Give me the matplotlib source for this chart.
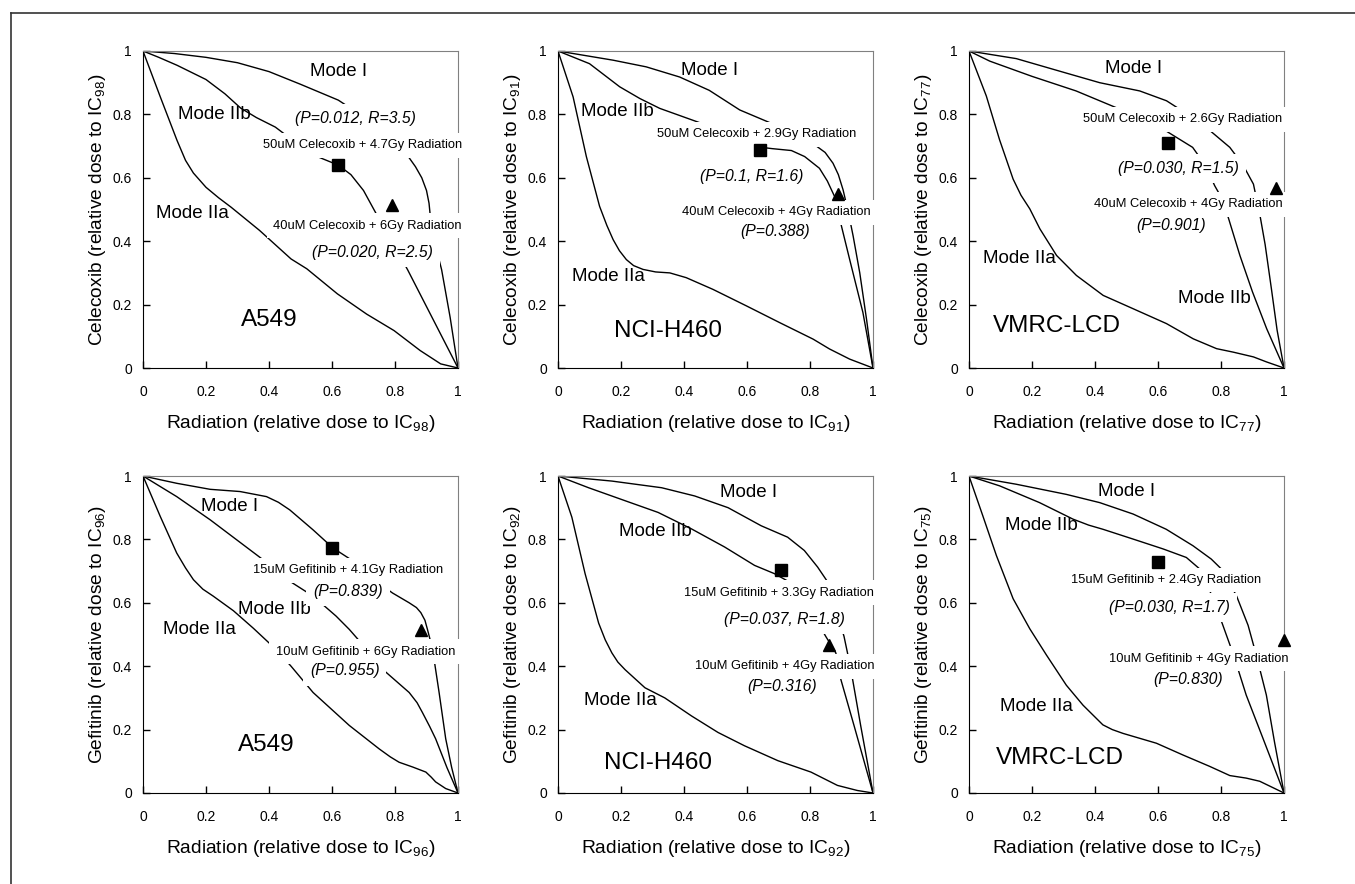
import matplotlib.pyplot as plt
from matplotlib.lines import Line2D

plt.rcParams['font.family'] = ['Liberation Sans', 'DejaVu Sans']
plt.rcParams['mathtext.fontset'] = 'custom'
plt.rcParams['mathtext.rm'] = 'Liberation Sans'
plt.rcParams['mathtext.default'] = 'regular'

# ---- data: (radiation, drug) points of each envelope ----
# Celecoxib / A549 (IC98)
cel_a549_I = [(0, 1), (0.1, 0.992), (0.2, 0.98), (0.3, 0.963), (0.4, 0.935), (0.5, 0.895), (0.62, 0.845),
              (0.72, 0.78), (0.8, 0.71), (0.84, 0.67), (0.865, 0.635), (0.885, 0.60), (0.90, 0.56),
              (0.908, 0.52), (0.912, 0.48), (0.925, 0.40), (0.948, 0.31), (0.975, 0.16), (1, 0)]
cel_a549_IIb = [(0, 1), (0.05, 0.98), (0.108, 0.955), (0.2, 0.91), (0.26, 0.865), (0.31, 0.82), (0.36, 0.79),
                (0.42, 0.76), (0.5, 0.70), (0.553, 0.667), (0.62, 0.64), (0.66, 0.61), (0.70, 0.56),
                (0.744, 0.48), (0.79, 0.40), (0.84, 0.31), (0.92, 0.155), (1, 0)]
cel_a549_IIa = [(0, 1), (0.055, 0.855), (0.108, 0.718), (0.135, 0.655), (0.16, 0.615), (0.2, 0.57),
                (0.24, 0.537), (0.28, 0.507), (0.37, 0.434), (0.47, 0.344), (0.52, 0.313), (0.617, 0.234),
                (0.71, 0.17), (0.797, 0.118), (0.88, 0.055), (0.945, 0.013), (1, 0)]
cel_a549_square = (0.62, 0.641)
cel_a549_triangle = (0.789, 0.513)
cel_a549_notes = ['(P=0.012, R=3.5)', '50uM Celecoxib + 4.7Gy Radiation',
                  '40uM Celecoxib + 6Gy Radiation', '(P=0.020, R=2.5)']

# Celecoxib / NCI-H460 (IC91)
cel_h460_I = [(0, 1), (0.175, 0.971), (0.28, 0.95), (0.386, 0.918), (0.48, 0.876), (0.577, 0.814),
              (0.677, 0.772), (0.75, 0.735), (0.815, 0.704), (0.848, 0.68), (0.873, 0.646), (0.89, 0.61),
              (0.905, 0.562), (0.922, 0.49), (0.937, 0.416), (0.958, 0.30), (0.98, 0.15), (1, 0)]
cel_h460_IIb = [(0, 1), (0.1, 0.96), (0.196, 0.887), (0.26, 0.85), (0.323, 0.819), (0.455, 0.772), (0.55, 0.73),
                (0.63, 0.698), (0.68, 0.692), (0.741, 0.686), (0.783, 0.667), (0.83, 0.63), (0.855, 0.59),
                (0.878, 0.541), (0.9, 0.447), (0.926, 0.342), (0.968, 0.175), (1, 0)]
cel_h460_IIa = [(0, 1), (0.048, 0.855), (0.09, 0.667), (0.132, 0.51), (0.155, 0.45), (0.175, 0.405),
                (0.195, 0.37), (0.217, 0.342), (0.24, 0.323), (0.27, 0.311), (0.31, 0.303), (0.355, 0.30),
                (0.407, 0.285), (0.492, 0.248), (0.598, 0.196), (0.704, 0.143), (0.81, 0.091), (0.862, 0.06),
                (0.926, 0.028), (1, 0)]
cel_h460_square = (0.64, 0.688)
cel_h460_triangle = (0.889, 0.549)
cel_h460_notes = ['50uM Celecoxib + 2.9Gy Radiation', '(P=0.1, R=1.6)',
                  '40uM Celecoxib + 4Gy Radiation', '(P=0.388)']

# Celecoxib / VMRC-LCD (IC77)
cel_vmrc_I = [(0, 1), (0.15, 0.976), (0.31, 0.93), (0.415, 0.90), (0.542, 0.874), (0.627, 0.843), (0.66, 0.822),
              (0.71, 0.79), (0.76, 0.753), (0.828, 0.696), (0.87, 0.64), (0.903, 0.58), (0.924, 0.48),
              (0.94, 0.39), (0.96, 0.25), (0.978, 0.12), (1, 0)]
cel_vmrc_IIb = [(0, 1), (0.066, 0.968), (0.2, 0.92), (0.34, 0.874), (0.48, 0.816), (0.55, 0.785), (0.617, 0.753),
                (0.71, 0.696), (0.75, 0.64), (0.78, 0.575), (0.80, 0.54), (0.823, 0.475), (0.86, 0.355),
                (0.9, 0.24), (0.945, 0.124), (1, 0)]
cel_vmrc_IIa = [(0, 1), (0.055, 0.858), (0.097, 0.72), (0.14, 0.596), (0.165, 0.545), (0.193, 0.502),
                (0.225, 0.439), (0.278, 0.355), (0.341, 0.292), (0.426, 0.229), (0.521, 0.187), (0.627, 0.14),
                (0.712, 0.092), (0.786, 0.061), (0.839, 0.05), (0.903, 0.035), (0.945, 0.019), (1, 0)]
cel_vmrc_square = (0.632, 0.711)
cel_vmrc_triangle = (0.975, 0.567)
cel_vmrc_notes = ['50uM Celecoxib + 2.6Gy Radiation', '(P=0.030, R=1.5)',
                  '40uM Celecoxib + 4Gy Radiation', '(P=0.901)']

# Gefitinib / A549 (IC96)
gef_a549_I = [(0, 1), (0.107, 0.977), (0.213, 0.958), (0.308, 0.951), (0.392, 0.935), (0.43, 0.917),
              (0.466, 0.893), (0.54, 0.83), (0.603, 0.773), (0.676, 0.726), (0.74, 0.668), (0.792, 0.631),
              (0.845, 0.60), (0.868, 0.585), (0.882, 0.569), (0.895, 0.545), (0.903, 0.516), (0.914, 0.474),
              (0.924, 0.422), (0.94, 0.317), (0.961, 0.171), (0.98, 0.08), (1, 0)]
gef_a549_IIb = [(0, 1), (0.107, 0.935), (0.213, 0.862), (0.297, 0.799), (0.381, 0.736), (0.466, 0.668),
                (0.54, 0.621), (0.613, 0.558), (0.655, 0.516), (0.692, 0.474), (0.761, 0.39), (0.845, 0.317),
                (0.87, 0.285), (0.887, 0.254), (0.91, 0.21), (0.929, 0.171), (0.965, 0.08), (1, 0)]
gef_a549_IIa = [(0, 1), (0.055, 0.872), (0.107, 0.757), (0.135, 0.71), (0.16, 0.673), (0.19, 0.643),
                (0.223, 0.621), (0.287, 0.575), (0.35, 0.52), (0.42, 0.455), (0.47, 0.40), (0.54, 0.317),
                (0.655, 0.213), (0.75, 0.139), (0.785, 0.114), (0.813, 0.097), (0.856, 0.082), (0.898, 0.066),
                (0.915, 0.05), (0.929, 0.035), (0.961, 0.014), (1, 0)]
gef_a549_square = (0.601, 0.773)
gef_a549_triangle = (0.882, 0.514)
gef_a549_notes = ['15uM Gefitinib + 4.1Gy Radiation', '(P=0.839)',
                  '10uM Gefitinib + 6Gy Radiation', '(P=0.955)']

# Gefitinib / NCI-H460 (IC92)
gef_h460_I = [(0, 1), (0.171, 0.984), (0.329, 0.963), (0.434, 0.937), (0.54, 0.90), (0.645, 0.843),
              (0.729, 0.807), (0.782, 0.765), (0.824, 0.713), (0.856, 0.666), (0.885, 0.57), (0.908, 0.494),
              (0.919, 0.442), (0.935, 0.36), (0.961, 0.212), (1, 0)]
gef_h460_IIb = [(0, 1), (0.097, 0.963), (0.213, 0.922), (0.318, 0.885), (0.424, 0.833), (0.529, 0.776),
                (0.624, 0.718), (0.687, 0.692), (0.734, 0.666), (0.8, 0.58), (0.85, 0.494), (0.882, 0.442),
                (0.898, 0.358), (0.94, 0.212), (1, 0)]
gef_h460_IIa = [(0, 1), (0.044, 0.87), (0.086, 0.692), (0.129, 0.536), (0.15, 0.483), (0.171, 0.442),
                (0.19, 0.413), (0.213, 0.389), (0.276, 0.332), (0.339, 0.30), (0.424, 0.243), (0.508, 0.191),
                (0.592, 0.149), (0.698, 0.102), (0.803, 0.066), (0.887, 0.024), (0.95, 0.008), (1, 0)]
gef_h460_square = (0.708, 0.705)
gef_h460_triangle = (0.859, 0.466)
gef_h460_notes = ['15uM Gefitinib + 3.3Gy Radiation', '(P=0.037, R=1.8)',
                  '10uM Gefitinib + 4Gy Radiation', '(P=0.316)']

# Gefitinib / VMRC-LCD (IC75)
gef_vmrc_I = [(0, 1), (0.15, 0.974), (0.309, 0.942), (0.415, 0.916), (0.521, 0.88), (0.626, 0.832),
              (0.711, 0.78), (0.769, 0.738), (0.806, 0.702), (0.85, 0.62), (0.886, 0.529), (0.912, 0.435),
              (0.944, 0.309), (0.97, 0.16), (1, 0)]
gef_vmrc_IIb = [(0, 1), (0.097, 0.969), (0.224, 0.916), (0.33, 0.864), (0.38, 0.845), (0.425, 0.832),
                (0.521, 0.801), (0.616, 0.77), (0.69, 0.743), (0.738, 0.702), (0.78, 0.6), (0.806, 0.529),
                (0.84, 0.435), (0.88, 0.309), (0.933, 0.173), (1, 0)]
gef_vmrc_IIa = [(0, 1), (0.044, 0.874), (0.087, 0.749), (0.14, 0.613), (0.193, 0.518), (0.246, 0.435),
                (0.309, 0.34), (0.362, 0.277), (0.425, 0.215), (0.455, 0.2), (0.489, 0.188), (0.595, 0.157),
                (0.679, 0.12), (0.764, 0.084), (0.828, 0.055), (0.88, 0.047), (0.923, 0.037), (1, 0)]
gef_vmrc_square = (0.6, 0.728)
gef_vmrc_triangle = (1.0, 0.482)
gef_vmrc_notes = ['15uM Gefitinib + 2.4Gy Radiation', '(P=0.030, R=1.7)',
                  '10uM Gefitinib + 4Gy Radiation', '(P=0.830)']

drugs = ['Celecoxib', 'Gefitinib']
cells = ['A549', 'NCI-H460', 'VMRC-LCD']
ic_levels = [['98', '91', '77'], ['96', '92', '75']]
ticks = [0, 0.2, 0.4, 0.6, 0.8, 1]

curves = [
    [(cel_a549_I, cel_a549_IIb, cel_a549_IIa), (cel_h460_I, cel_h460_IIb, cel_h460_IIa),
     (cel_vmrc_I, cel_vmrc_IIb, cel_vmrc_IIa)],
    [(gef_a549_I, gef_a549_IIb, gef_a549_IIa), (gef_h460_I, gef_h460_IIb, gef_h460_IIa),
     (gef_vmrc_I, gef_vmrc_IIb, gef_vmrc_IIa)],
]
squares = [[cel_a549_square, cel_h460_square, cel_vmrc_square],
           [gef_a549_square, gef_h460_square, gef_vmrc_square]]
triangles = [[cel_a549_triangle, cel_h460_triangle, cel_vmrc_triangle],
             [gef_a549_triangle, gef_h460_triangle, gef_vmrc_triangle]]
notes = [[cel_a549_notes, cel_h460_notes, cel_vmrc_notes],
         [gef_a549_notes, gef_h460_notes, gef_vmrc_notes]]

# ---- layout (text placement in axes coords) ----
mode_pos = [
    [{'Mode I': (0.62, 0.934), 'Mode IIb': (0.225, 0.80), 'Mode IIa': (0.156, 0.486)},
     {'Mode I': (0.481, 0.939), 'Mode IIb': (0.19, 0.808), 'Mode IIa': (0.159, 0.29)},
     {'Mode I': (0.521, 0.944), 'Mode IIb': (0.78, 0.22), 'Mode IIa': (0.161, 0.344)}],
    [{'Mode I': (0.276, 0.904), 'Mode IIb': (0.418, 0.579), 'Mode IIa': (0.179, 0.516)},
     {'Mode I': (0.606, 0.948), 'Mode IIb': (0.308, 0.826), 'Mode IIa': (0.197, 0.292)},
     {'Mode I': (0.5, 0.95), 'Mode IIb': (0.23, 0.843), 'Mode IIa': (0.214, 0.272)}],
]
note_pos = [
    [[(0.675, 0.786), (0.696, 0.702), (0.712, 0.449), (0.728, 0.365)],
     [(0.632, 0.738), (0.614, 0.604), (0.693, 0.491), (0.688, 0.431)],
     [(0.678, 0.785), (0.664, 0.63), (0.696, 0.517), (0.643, 0.449)]],
    [[(0.65, 0.702), (0.65, 0.637), (0.706, 0.445), (0.64, 0.385)],
     [(0.70, 0.632), (0.719, 0.546), (0.721, 0.40), (0.71, 0.337)],
     [(0.626, 0.672), (0.637, 0.586), (0.73, 0.424), (0.695, 0.359)]],
]
cell_pos = [[(0.40, 0.15), (0.349, 0.117), (0.278, 0.131)],
            [(0.392, 0.15), (0.316, 0.094), (0.288, 0.11)]]

W, H = 1355, 884
fig = plt.figure(figsize=(W / 100, H / 100), dpi=100)
col_left = [143, 558, 969]
row_top = [51, 476]
ax_w, ax_h = 315, 317

for r in range(2):
    for c in range(3):
        ax = fig.add_axes([col_left[c] / W, (H - row_top[r] - ax_h) / H, ax_w / W, ax_h / H])
        for pts in curves[r][c]:
            xs = [p[0] for p in pts]
            ys = [p[1] for p in pts]
            ax.plot(xs, ys, color='black', lw=1.0, zorder=2, solid_joinstyle='round')
        ax.plot(*squares[r][c], marker='s', ms=8.5, color='black', zorder=5, clip_on=False)
        ax.plot(*triangles[r][c], marker='^', ms=9, color='black', zorder=5, clip_on=False)

        for label, (tx, ty) in mode_pos[r][c].items():
            ax.text(tx, ty, label, fontsize=13.5, ha='center', va='center', transform=ax.transAxes)
        for txt, (tx, ty) in zip(notes[r][c], note_pos[r][c]):
            italic = txt.startswith('(')
            ax.text(tx, ty, txt, fontsize=11.3 if italic else 9.3, style='italic' if italic else 'normal',
                    ha='center', va='center', transform=ax.transAxes, zorder=4,
                    bbox=dict(boxstyle='square,pad=%s' % (0.45 if italic else 0.5), fc='white', ec='none'))
        ax.text(*cell_pos[r][c], cells[c], fontsize=17.5, ha='center', va='center', transform=ax.transAxes)

        ax.set_xlim(0, 1)
        ax.set_ylim(0, 1)
        ax.set_xticks(ticks)
        ax.set_yticks(ticks)
        ax.set_xticklabels([f'{t:g}' for t in ticks])
        ax.set_yticklabels([f'{t:g}' for t in ticks])
        ax.tick_params(direction='in', length=5, width=1, labelsize=10)
        ax.tick_params(axis='x', pad=12)
        ax.tick_params(axis='y', pad=8)
        for side in ['top', 'right']:
            ax.spines[side].set_color('#808080')
        for side in ['left', 'bottom']:
            ax.spines[side].set_color('black')
        ic = ic_levels[r][c]
        ax.set_xlabel(f'Radiation (relative dose to IC$_{{{ic}}}$)', fontsize=13.8, labelpad=10)
        ax.set_ylabel(f'{drugs[r]} (relative dose to IC$_{{{ic}}}$)', fontsize=13.8, labelpad=3)

# outer frame (left and top edges)
fig.add_artist(Line2D([11 / W, 11 / W], [0, 1 - 13 / H], color='#333333', lw=1.2))
fig.add_artist(Line2D([11 / W, 1], [1 - 13 / H, 1 - 13 / H], color='#333333', lw=1.2))

fig.savefig('out.png', dpi=100)
